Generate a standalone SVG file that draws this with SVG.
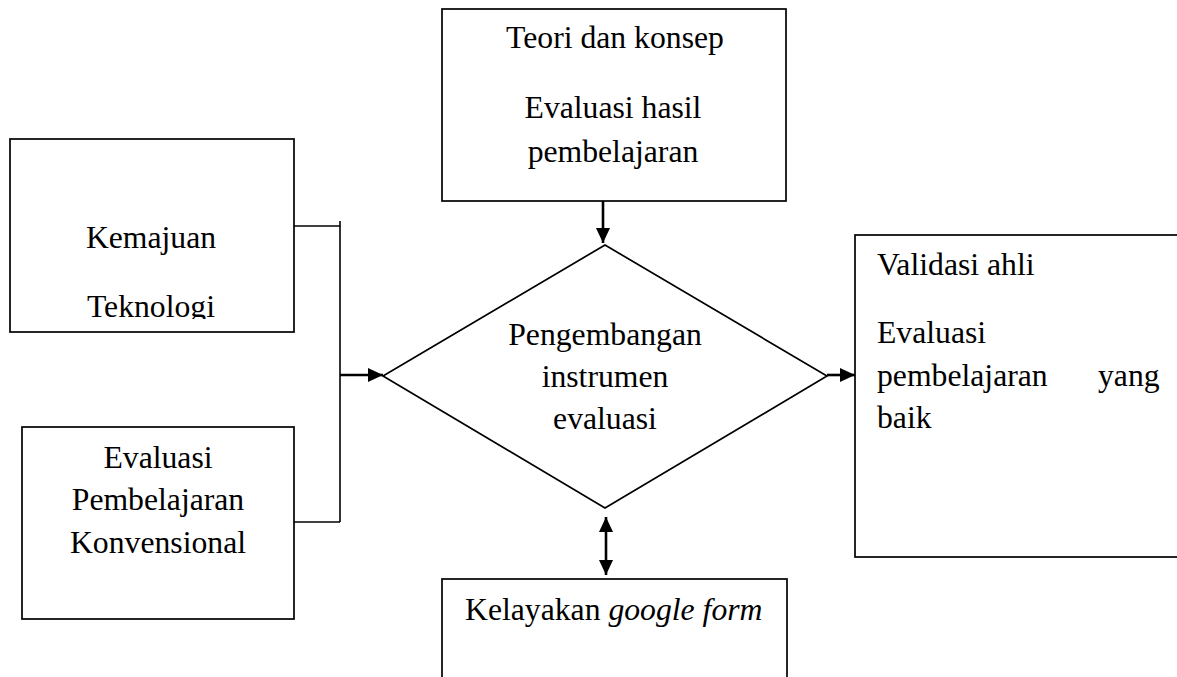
<svg xmlns="http://www.w3.org/2000/svg" width="1177" height="677" viewBox="0 0 1177 677">
<style>
.box{fill:#fff;stroke:#000;stroke-width:1.7}
.t{font-family:"Liberation Serif","Times New Roman",serif;font-size:31.7px;fill:#000}
.c{text-anchor:middle}
.ln{fill:none;stroke:#000;stroke-width:1.6}
.ar{fill:none;stroke:#000;stroke-width:2.6}
</style>
<defs>
<marker id="ah" markerUnits="userSpaceOnUse" markerWidth="15" markerHeight="14" refX="15" refY="7" orient="auto-start-reverse">
<path d="M0,0 L15,7 L0,14 z" fill="#000"/>
</marker>
<clipPath id="clipK"><rect x="10" y="139" width="284" height="180"/></clipPath>
</defs>
<rect width="1177" height="677" fill="#fff"/>
<g id="connectors">
<polyline class="ln" points="294,226 340,226"/>
<polyline class="ln" points="340,221 340,522"/>
<polyline class="ln" points="292,522 340,522"/>
<line class="ar" x1="340" y1="375" x2="383" y2="375" marker-end="url(#ah)"/>
<line class="ar" x1="827" y1="375" x2="855" y2="375" marker-end="url(#ah)"/>
<line class="ar" x1="603" y1="201" x2="603" y2="243" marker-end="url(#ah)"/>
<line class="ar" x1="606" y1="517" x2="606" y2="575" marker-start="url(#ah)" marker-end="url(#ah)"/>
</g>
<g id="node-teori">
<rect class="box" x="442" y="9" width="344" height="192"/>
<text class="t c" x="615" y="48">Teori dan konsep</text>
<text class="t c" x="613" y="118">Evaluasi hasil</text>
<text class="t c" x="613" y="162">pembelajaran</text>
</g>
<g id="node-kemajuan">
<rect class="box" x="10" y="139" width="284" height="193"/>
<g clip-path="url(#clipK)">
<text class="t c" x="151" y="248">Kemajuan</text>
<text class="t c" x="151" y="317">Teknologi</text>
</g>
</g>
<g id="node-konvensional">
<rect class="box" x="22" y="427" width="272" height="192"/>
<text class="t c" x="158" y="468">Evaluasi</text>
<text class="t c" x="158" y="510">Pembelajaran</text>
<text class="t c" x="158" y="553">Konvensional</text>
</g>
<g id="node-pengembangan">
<polygon class="box" points="605,245 827,376 605,508 383,376"/>
<text class="t c" x="605" y="345">Pengembangan</text>
<text class="t c" x="605" y="387">instrumen</text>
<text class="t c" x="605" y="429">evaluasi</text>
</g>
<g id="node-validasi">
<rect class="box" x="855" y="235" width="400" height="322"/>
<text class="t" x="877" y="275">Validasi ahli</text>
<text class="t" x="877" y="343">Evaluasi</text>
<text class="t" x="877" y="386">pembelajaran</text>
<text class="t" x="1098" y="386">yang</text>
<text class="t" x="877" y="428">baik</text>
</g>
<g id="node-kelayakan">
<rect class="box" x="442" y="579" width="345" height="200"/>
<text class="t" x="465" y="620">Kelayakan <tspan font-style="italic">google form</tspan></text>
</g>
</svg>
